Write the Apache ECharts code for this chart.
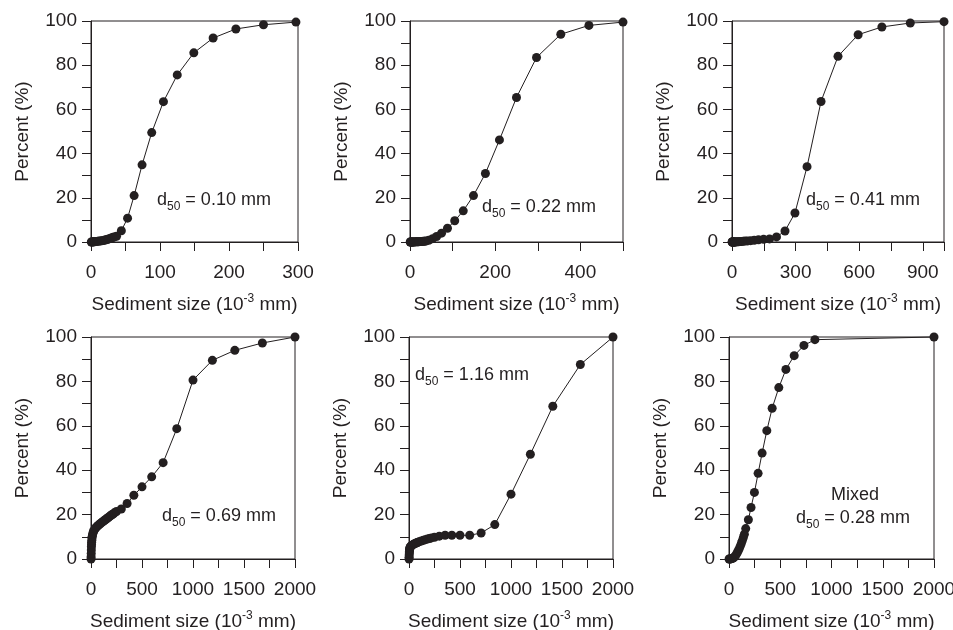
<!DOCTYPE html>
<html>
<head>
<meta charset="utf-8">
<script src="https://cdn.jsdelivr.net/npm/echarts@6/dist/echarts.min.js"></script>
<style>
  html, body { margin: 0; padding: 0; background: #fff; }
  #grain { width: 953px; height: 630px; }
</style>
</head>
<body>
<div id="grain"></div>
<script>
  // sediment size (10^-3 mm) and cumulative percent for each sample
  const sizeA = [0.5, 1, 2, 3, 4, 5, 6, 8, 10, 12, 14, 16, 18, 20, 22, 24, 26, 28, 30, 32, 34, 37, 44, 53, 62.5, 74, 88, 105, 125, 149, 177, 210, 250, 297]
  const pctA  = [0, 0, 0, 0.1, 0.1, 0.1, 0.2, 0.2, 0.3, 0.4, 0.5, 0.6, 0.7, 0.9, 1.0, 1.2, 1.4, 1.6, 1.9, 2.1, 2.3, 2.6, 5.1, 10.8, 21, 34.9, 49.5, 63.5, 75.6, 85.6, 92.3, 96.4, 98.3, 99.5]

  const sizeB = [0.5, 1, 2, 3, 4, 5, 6, 8, 10, 12, 14, 16, 18, 20, 22, 25, 28, 31, 34, 37, 44, 53, 62.5, 74, 88, 105, 125, 149, 177, 210, 250, 297, 354, 420, 500]
  const pctB  = [0, 0, 0, 0, 0, 0, 0, 0, 0, 0.1, 0.1, 0.1, 0.1, 0.1, 0.2, 0.2, 0.2, 0.3, 0.3, 0.4, 0.8, 1.5, 2.5, 4, 6.2, 9.6, 14.1, 21, 31, 46.2, 65.4, 83.5, 94, 98, 99.5]

  const sizeC = [0.5, 1, 2, 3, 4, 5, 6, 8, 10, 12, 15, 20, 25, 30, 37, 44, 53, 62.5, 74, 88, 105, 125, 149, 177, 210, 250, 297, 354, 420, 500, 595, 707, 841, 1000]
  const pctC  = [0, 0, 0, 0, 0, 0, 0, 0, 0, 0, 0, 0.1, 0.1, 0.1, 0.2, 0.2, 0.3, 0.4, 0.5, 0.6, 0.8, 1.0, 1.2, 1.4, 2.3, 5, 13.1, 34.1, 63.6, 84, 93.8, 97.3, 99.1, 99.7]

  const sizeD = [0.5, 1, 2, 3, 4, 5, 6, 8, 10, 12, 15, 20, 25, 30, 40, 50, 60, 70, 80, 90, 100, 110, 120, 130, 140, 150, 160, 170, 180, 190, 200, 210, 220, 230, 250, 297, 354, 420, 500, 595, 707, 841, 1000, 1190, 1410, 1680, 2000]
  const pctD  = [0, 1, 2.5, 4, 5.5, 6.5, 7.5, 8.5, 9.5, 10.2, 11, 11.8, 12.4, 13, 13.6, 14.2, 14.7, 15.1, 15.5, 15.9, 16.3, 16.6, 17, 17.3, 17.7, 18, 18.4, 18.7, 19.1, 19.4, 19.8, 20.1, 20.4, 20.8, 21.4, 22.5, 25, 28.7, 32.5, 37, 43.4, 58.7, 80.6, 89.5, 94, 97.3, 100]

  const sizeE = [0.5, 1, 2, 3, 4, 5, 6, 8, 10, 15, 20, 30, 40, 50, 60, 70, 80, 90, 100, 120, 140, 160, 180, 200, 220, 250, 297, 354, 420, 500, 595, 707, 841, 1000, 1190, 1410, 1680, 2000]
  const pctE  = [0, 0.8, 1.8, 2.7, 3.4, 4, 4.4, 4.9, 5.2, 5.6, 5.9, 6.2, 6.5, 6.8, 7.0, 7.2, 7.4, 7.6, 7.8, 8.1, 8.4, 8.7, 9.0, 9.2, 9.5, 9.8, 10.3, 10.7, 10.7, 10.7, 10.7, 11.7, 15.5, 29.2, 47.2, 68.8, 87.6, 100]

  const sizeF = [0.5, 5, 10, 20, 30, 40, 50, 60, 70, 80, 90, 100, 110, 120, 130, 140, 150, 163, 189, 215, 248, 284, 323, 369, 421, 486, 555, 636, 731, 838, 2000]
  const pctF  = [0, 0, 0, 0.1, 0.2, 0.4, 0.8, 1.3, 2.0, 2.8, 3.7, 4.7, 5.8, 7.0, 8.3, 9.7, 11.2, 13.7, 17.7, 23.2, 30, 38.6, 47.7, 57.8, 67.9, 77.2, 85.4, 91.6, 96.2, 98.8, 100]

  // x axis: max, tick step, label step
  const xMax   = [300, 500, 1000, 2000, 2000, 2000]
  const xTick  = [50, 100, 150, 250, 250, 250]
  const xLabel = [100, 200, 300, 500, 500, 500]

  const sizes = [sizeA, sizeB, sizeC, sizeD, sizeE, sizeF]
  const pcts = [pctA, pctB, pctC, pctD, pctE, pctF]

  const ink = '#231f20'
  const font = '"Liberation Sans", Arial, sans-serif'

  const grids = [
    { left: 91, top: 21, width: 207, height: 221 },
    { left: 410, top: 21, width: 213, height: 221 },
    { left: 732, top: 21, width: 212, height: 221 },
    { left: 91, top: 337, width: 204, height: 222 },
    { left: 409, top: 337, width: 204, height: 222 },
    { left: 729, top: 337, width: 205, height: 222 }
  ]

  const option = {
    animation: false,
    backgroundColor: '#fff',
    textStyle: { fontFamily: font, color: ink },
    grid: [],
    xAxis: [],
    yAxis: [],
    series: [],
    graphic: []
  }

  for (let i = 0; i < 6; i++) {
    option.grid.push(Object.assign({
      show: true,
      borderColor: ink,
      borderWidth: 1,
      containLabel: false,
      outerBoundsMode: 'none'
    }, grids[i]))

    option.xAxis.push({
      type: 'value',
      gridIndex: i,
      min: 0,
      max: xMax[i],
      interval: xTick[i],
      splitLine: { show: false },
      axisLine: { lineStyle: { color: ink, width: 1 } },
      axisTick: { length: 9, lineStyle: { color: ink } },
      axisLabel: {
        margin: 21,
        fontSize: 19,
        color: ink,
        fontFamily: font,
        showMaxLabel: true,
        formatter: (function (step, mx) {
          return function (v) {
            return (v % step === 0 && v <= mx - (mx % step === 0 ? 0 : 1)) ? String(v) : ''
          }
        })(xLabel[i], xMax[i])
      },
      name: '{t|Sediment size (10}{s|-3}{t| mm)}',
      nameLocation: 'middle',
      nameGap: 51,
      nameTextStyle: {
        rich: {
          t: { fontSize: 19, color: ink, fontFamily: font, lineHeight: 24 },
          s: { fontSize: 12, color: ink, fontFamily: font, lineHeight: 14, verticalAlign: 'top' }
        }
      }
    })

    option.yAxis.push({
      type: 'value',
      gridIndex: i,
      min: 0,
      max: 100,
      interval: 10,
      splitLine: { show: false },
      axisLine: { lineStyle: { color: ink, width: 1 } },
      axisTick: { length: 9, lineStyle: { color: ink } },
      axisLabel: {
        margin: 14,
        fontSize: 19,
        color: ink,
        fontFamily: font,
        formatter: function (v) { return v % 20 === 0 ? String(v) : '' }
      },
      name: 'Percent (%)',
      nameLocation: 'middle',
      nameGap: 59,
      nameTextStyle: { fontSize: 19, color: ink, fontFamily: font }
    })

    const pts = []
    for (let k = 0; k < sizes[i].length; k++) pts.push([sizes[i][k], pcts[i][k]])

    option.series.push({
      type: 'line',
      xAxisIndex: i,
      yAxisIndex: i,
      data: pts,
      symbol: 'circle',
      symbolSize: 9,
      showAllSymbol: true,
      clip: false,
      itemStyle: { color: ink },
      lineStyle: { color: ink, width: 1 }
    })
  }

  // d50 annotations
  const notes = [
    { x: 157, y: 200, v: ' = 0.10 mm' },
    { x: 482, y: 207, v: ' = 0.22 mm' },
    { x: 806, y: 200, v: ' = 0.41 mm' },
    { x: 162, y: 516, v: ' = 0.69 mm' },
    { x: 415, y: 375, v: ' = 1.16 mm' },
    { x: 796, y: 518, v: ' = 0.28 mm' }
  ]
  const rich = {
    d: { fontSize: 18, fill: ink, fontFamily: font, lineHeight: 26 },
    s: { fontSize: 12, fill: ink, fontFamily: font, lineHeight: 14, verticalAlign: 'bottom' }
  }
  notes.forEach(function (n) {
    option.graphic.push({
      type: 'text',
      x: n.x,
      y: n.y,
      style: {
        text: '{d|d}{s|50}{d|' + n.v + '}',
        rich: rich,
        fill: ink,
        align: 'left',
        verticalAlign: 'middle'
      }
    })
  })
  option.graphic.push({
    type: 'text',
    x: 855,
    y: 495,
    style: {
      text: 'Mixed',
      fontSize: 18,
      fontFamily: font,
      fill: ink,
      align: 'center',
      verticalAlign: 'middle'
    }
  })

  const chart = echarts.init(document.getElementById('grain'))
  chart.setOption(option)
</script>
</body>
</html>
